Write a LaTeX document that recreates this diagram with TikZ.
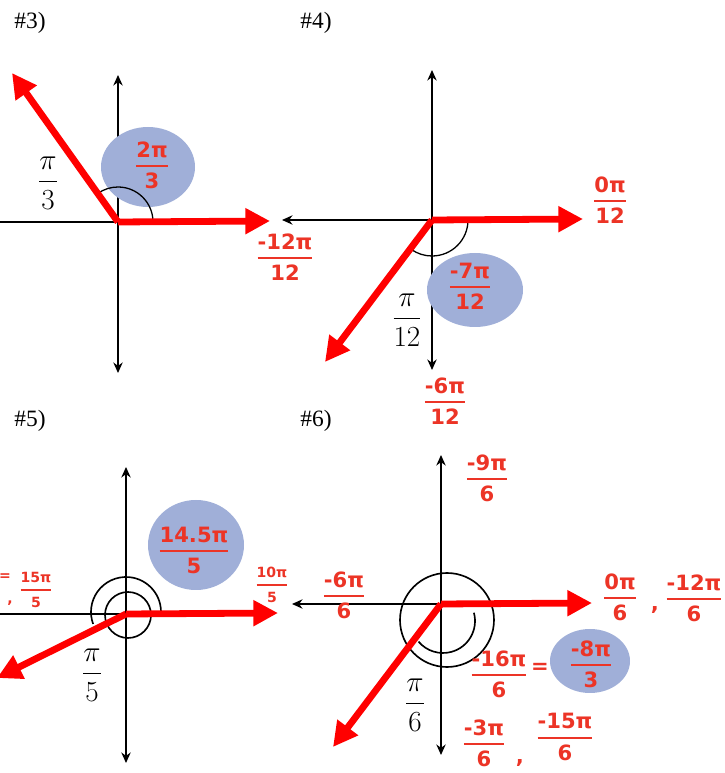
\documentclass[tikz,border=0pt]{standalone}
\usepackage{amsmath}
\usepackage{fontspec}
\setmainfont{Liberation Serif}
\newfontfamily\handfont{DejaVu Sans}
\usepackage{tikz}
\usetikzlibrary{arrows.meta}
\definecolor{rayRed}{RGB}{255,0,0}
\definecolor{inkRed}{RGB}{236,52,38}
\definecolor{blobBlue}{RGB}{160,175,216}
% handwritten fraction
\newcommand{\hfrac}[2]{$\genfrac{}{}{1.7pt}{0}{\mbox{#1}}{\mbox{#2}}$}

\begin{document}
\begin{tikzpicture}[x=0.03cm, y=0.03cm,
  axis/.style={line width=2.3pt, {Stealth[length=9pt,width=8pt]}-{Stealth[length=9pt,width=8pt]}},
  half/.style={line width=2.3pt, {Stealth[length=9pt,width=8pt]}-},
  plain/.style={line width=2.3pt},
  ray/.style={rayRed, line width=5.8pt, -{Triangle[length=21pt,width=21pt]}},
  angarc/.style={line width=1.1pt},
  ring/.style={line width=1.4pt},
  blob/.style={fill=blobBlue},
  hand/.style={text=inkRed, inner sep=0pt, font=\handfont\bfseries\fontsize{18}{18}\selectfont},
  small/.style={hand, font=\handfont\bfseries\fontsize{12}{12}\selectfont},
  angle/.style={inner sep=0pt, font=\fontsize{28}{32}\selectfont},
  title/.style={inner sep=0pt, font=\fontsize{20}{23}\selectfont}]
  \useasboundingbox (0,0) rectangle (725,773);

  % #3
  \node[title] (n3) at (30,750) {\#3)};
  \coordinate (o3) at (118,551);
  \coordinate (y3a) at (118,698);
  \coordinate (y3b) at (118,400);
  \coordinate (x3a) at (0,551);
  \draw[axis] (y3b) -- (y3a);
  \draw[plain] (x3a) -- (o3);
  \fill[blob] (148,606) ellipse[x radius=47, y radius=40];
  \draw[angarc] ([shift={(0:35)}]o3) arc[start angle=0, end angle=125, radius=35];
  \coordinate (r3a) at (270,552);
  \coordinate (r3b) at (12,700);
  \draw[ray] (o3) -- (r3a);
  \draw[ray] (o3) -- (r3b);
  \node[hand] (h3a) at (152,608) {\hfrac{2π}{3}};
  \node[angle] (p3) at (48,590) {$\dfrac{\pi}{3}$};

  % #4
  \node[title] (n4) at (316,750) {\#4)};
  \coordinate (o4) at (432,553);
  \coordinate (y4a) at (432,703);
  \coordinate (y4b) at (432,403);
  \coordinate (x4a) at (282,553);
  \draw[axis] (y4b) -- (y4a);
  \draw[half] (x4a) -- (o4);
  \fill[blob] (475,483) ellipse[x radius=48, y radius=37];
  \draw[angarc] ([shift={(0:36)}]o4) arc[start angle=0, end angle=-125, radius=36];
  \coordinate (r4a) at (583,554);
  \coordinate (r4b) at (325,411);
  \draw[ray] (o4) -- (r4a);
  \draw[ray] (o4) -- (r4b);
  \node[hand] (h4a) at (470,487) {\hfrac{-7π}{12}};
  \node[hand] (h4b) at (610,573) {\hfrac{0π}{12}};
  \node[hand] (h4c) at (445,372) {\hfrac{-6π}{12}};
  \node[hand] (h4d) at (285,516) {\hfrac{-12π}{12}};
  \node[angle] (p4) at (407,453) {$\dfrac{\pi}{12}$};

  % #5
  \node[title] (n5) at (30,352) {\#5)};
  \coordinate (o5) at (126,159);
  \coordinate (y5a) at (126,306);
  \coordinate (y5b) at (126,10);
  \coordinate (x5a) at (0,159);
  \draw[axis] (y5b) -- (y5a);
  \draw[plain] (x5a) -- (o5);
  \fill[blob] (196,228) ellipse[x radius=48, y radius=45];
  \draw[ring] (128,158) circle[radius=23];
  \draw[ring] ([shift={(-5:35)}]126,161) arc[start angle=-5, end angle=200, radius=35];
  \coordinate (r5a) at (278,160);
  \coordinate (r5b) at (-3,95);
  \draw[ray] (o5) -- (r5a);
  \draw[ray] (o5) -- (r5b);
  \node[hand] (h5a) at (194,223) {\hfrac{14.5π}{5}};
  \node[small] (h5b) at (272,188) {\hfrac{10π}{5}};
  \node[small] (h5c) at (36,183) {\hfrac{15π}{5}};
  \node[small] (h5d) at (5,196) {=};
  \node[small] (h5e) at (10,170) {,};
  \node[angle] (p5) at (92,98) {$\dfrac{\pi}{5}$};

  % #6
  \node[title] (n6) at (316,352) {\#6)};
  \coordinate (o6) at (441,169);
  \coordinate (y6a) at (441,318);
  \coordinate (y6b) at (441,18);
  \coordinate (x6a) at (292,169);
  \draw[axis] (y6b) -- (y6a);
  \draw[half] (x6a) -- (o6);
  \fill[blob] (590,112) ellipse[x radius=40, y radius=32];
  \draw[ring] (447,153) circle[radius=47];
  \draw[ring] ([shift={(15:32)}]443,152) arc[start angle=15, end angle=-140, radius=32];
  \coordinate (r6a) at (592,170);
  \coordinate (r6b) at (333,26);
  \draw[ray] (o6) -- (r6a);
  \draw[ray] (o6) -- (r6b);
  \node[hand] (h6a) at (487,295) {\hfrac{-9π}{6}};
  \node[hand] (h6b) at (344,178) {\hfrac{-6π}{6}};
  \node[hand] (h6c) at (620,176) {\hfrac{0π}{6}};
  \node[hand] (h6d) at (655,163) {,};
  \node[hand] (h6e) at (694,175) {\hfrac{-12π}{6}};
  \node[hand] (h6f) at (499,99) {\hfrac{-16π}{6}};
  \node[hand] (h6g) at (540,105) {=};
  \node[hand] (h6h) at (591,109) {\hfrac{-8π}{3}};
  \node[hand] (h6i) at (484,30) {\hfrac{-3π}{6}};
  \node[hand] (h6j) at (520,10) {,};
  \node[hand] (h6k) at (565,36) {\hfrac{-15π}{6}};
  \node[angle] (p6) at (415,68) {$\dfrac{\pi}{6}$};
\end{tikzpicture}
\end{document}
